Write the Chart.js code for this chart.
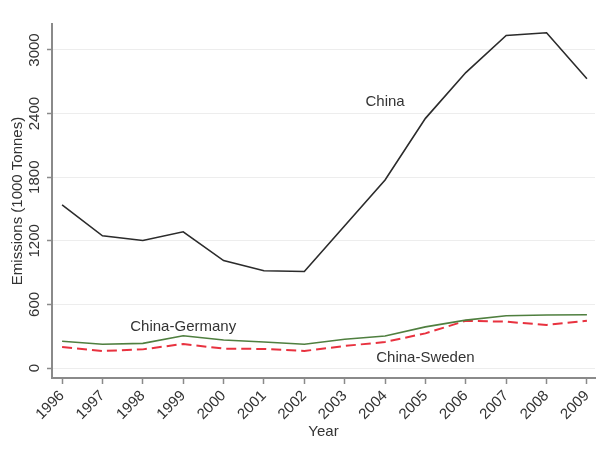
<!DOCTYPE html>
<html><head><meta charset="utf-8">
<script src="https://cdn.jsdelivr.net/npm/chart.js@4"></script>
<style>html,body{margin:0;padding:0;background:#fff}#wrap{width:608px;height:456px;position:relative}</style>
</head><body><div id="wrap"><canvas id="c"></canvas></div>
<script>
const years = [1996,1997,1998,1999,2000,2001,2002,2003,2004,2005,2006,2007,2008,2009];
const china = [1540,1247,1203,1285,1014,917,910,1342,1774,2355,2787,3137,3162,2728];
const chinaGermany = [252,224,233,305,265,246,224,271,302,388,452,493,500,503];
const chinaSweden = [198,161,176,227,183,180,161,208,246,327,446,437,406,446];
const yTicks = [0,600,1200,1800,2400,3000];
const seriesNames = ['China','China-Germany','China-Sweden'];
const labelYears = [2004, 1999, 2005];
const labelValues = [2509, 391, 94];

const FONT = '"Liberation Sans", Arial, sans-serif';
const pts = arr => years.map((y,i)=>({x:y, y:arr[i]}));

const seriesLabelPlugin = {
  id: 'seriesLabels',
  afterDatasetsDraw(chart) {
    const {ctx, scales:{x, y}} = chart;
    ctx.save();
    ctx.font = '15px ' + FONT;
    ctx.fillStyle = '#333';
    ctx.textAlign = 'center';
    ctx.textBaseline = 'middle';
    seriesNames.forEach((n,i)=>{
      ctx.fillText(n, x.getPixelForValue(labelYears[i]), y.getPixelForValue(labelValues[i]));
    });
    ctx.restore();
  }
};

new Chart(document.getElementById('c'), {
  type: 'line',
  data: {
    datasets: [
      {label: seriesNames[0], data: pts(china), borderColor: '#2b2b2b', borderWidth: 1.6, pointRadius: 0, tension: 0, fill: false},
      {label: seriesNames[1], data: pts(chinaGermany), borderColor: '#4f7f3f', borderWidth: 1.6, pointRadius: 0, tension: 0, fill: false},
      {label: seriesNames[2], data: pts(chinaSweden), borderColor: '#e8323f', borderWidth: 2, borderDash: [10,5], pointRadius: 0, tension: 0, fill: false}
    ]
  },
  options: {
    responsive: true,
    maintainAspectRatio: false,
    animation: false,
    layout: {padding: {top: 24, right: 13, left: 0, bottom: 0}},
    plugins: {legend: {display: false}, tooltip: {enabled: false}},
    scales: {
      x: {
        type: 'linear',
        min: 1995.75, max: 2009.2,
        afterBuildTicks: s => { s.ticks = years.map(v=>({value:v})); },
        afterFit: s => { s.height = 78; },
        ticks: {minRotation: 45, maxRotation: 45, padding: 3, color: '#333', font: {family: FONT, size: 15},
          callback: v => String(v)},
        grid: {drawOnChartArea: false, drawTicks: true, tickLength: 6, tickColor: '#8a8a8a', tickWidth: 1.5},
        border: {color: '#8a8a8a', width: 2},
        title: {display: true, text: 'Year', color: '#333', font: {family: FONT, size: 15}, padding: {top: 0, bottom: 15}}
      },
      y: {
        type: 'linear',
        min: -94, max: 3245,
        afterBuildTicks: s => { s.ticks = yTicks.map(v=>({value:v})); },
        afterFit: s => { s.width = 52; },
        ticks: {minRotation: 90, maxRotation: 90, crossAlign: 'center', padding: -5, color: '#333', font: {family: FONT, size: 15},
          callback: v => String(v)},
        grid: {color: '#ededed', lineWidth: 1, drawTicks: true, tickLength: 5, tickColor: '#8a8a8a', tickWidth: 1.5},
        border: {color: '#8a8a8a', width: 2},
        title: {display: true, text: 'Emissions (1000 Tonnes)', color: '#333', font: {family: FONT, size: 15}, padding: {top: 9, bottom: 0}}
      }
    }
  },
  plugins: [seriesLabelPlugin]
});
</script></body></html>
